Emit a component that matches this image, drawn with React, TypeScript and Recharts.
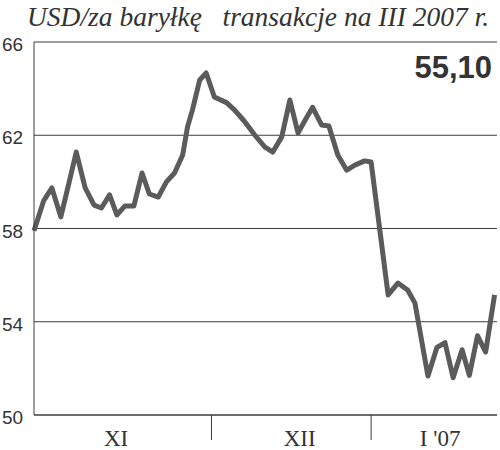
import React from "react";
import { LineChart, Line, XAxis, YAxis, CartesianGrid } from "recharts";

// trading days since 1 Nov (approx.) and USD/bbl closing price
const days = [
  0, 1.2, 2.2, 3.3, 4.3, 5.2, 6.3, 7.4, 8.3, 9.3, 10.2, 11.2, 12.3, 13.3, 14.2,
  15.3, 16.3, 17.3, 18.3, 18.9, 19.5, 20.4, 21.2, 22.2, 23.7, 24.7, 25.9, 27.2,
  28.4, 29.4, 30.5, 31.5, 32.5, 33.6, 34.3, 35.4, 36.3, 37.4, 38.5, 39.5, 40.7,
  41.5, 43.6, 44.8, 46.0, 46.9, 48.5, 49.6, 50.6, 51.6, 52.7, 53.6, 54.6, 55.6,
  56.7,
];
const prices = [
  57.9, 59.2, 59.74, 58.5, 59.95, 61.28, 59.74, 59.0, 58.88, 59.44, 58.58, 58.97,
  58.97, 60.38, 59.48, 59.35, 60.0, 60.38, 61.15, 62.36, 63.08, 64.37, 64.67,
  63.64, 63.4, 63.08, 62.6, 62.0, 61.5, 61.28, 61.93, 63.51, 62.1, 62.78, 63.2,
  62.44, 62.4, 61.15, 60.5, 60.72, 60.9, 60.85, 55.15, 55.66, 55.36, 54.8, 51.67,
  52.9, 53.1, 51.6, 52.8, 51.7, 53.4, 52.7, 55.15,
];

const yTicks = [50, 54, 58, 62, 66];
const monthCenters = [10.1, 32.7, 50];
const monthLabels = ["XI", "XII", "I '07"];
const monthBreaks = [21.85, 41.5];

const LINE_COLOR = "#5b5b5b";
const GRID_COLOR = "#3c3c3c";
const TEXT_COLOR = "#333";

const data = days.map((d, i) => ({ day: d, price: prices[i] }));

function MonthTick({ x, y, payload }: any) {
  const i = monthCenters.indexOf(payload.value);
  if (i < 0) {
    return <line x1={x} x2={x} y1={y} y2={y + 25} stroke={GRID_COLOR} strokeWidth={1} />;
  }
  return (
    <text
      x={x}
      y={y + 31}
      textAnchor="middle"
      fill={TEXT_COLOR}
      style={{ fontFamily: "Liberation Serif", fontSize: 23 }}
    >
      {monthLabels[i]}
    </text>
  );
}

function PriceTick({ y, payload }: any) {
  return (
    <text
      x={2}
      y={y + 9}
      textAnchor="start"
      fill={TEXT_COLOR}
      style={{ fontFamily: "Liberation Sans", fontSize: 19 }}
    >
      {payload.value}
    </text>
  );
}

export default function App() {
  return (
    <div style={{ position: "fixed", left: 0, top: 0, width: 500, height: 450, background: "#fff" }}>
      <div
        style={{
          position: "absolute",
          left: 27,
          top: 1,
          fontFamily: "Liberation Serif",
          fontStyle: "italic",
          fontSize: 27.5,
          color: TEXT_COLOR,
          whiteSpace: "pre",
        }}
      >
        {"USD/za baryłkę   transakcje na III 2007 r."}
      </div>
      <div
        style={{
          position: "absolute",
          right: 8,
          top: 50,
          fontFamily: "Liberation Sans",
          fontWeight: "bold",
          fontSize: 31,
          color: TEXT_COLOR,
        }}
      >
        55,10
      </div>
      <LineChart width={500} height={450} data={data} margin={{ top: 42, right: 3, left: 0, bottom: 0 }}>
        <CartesianGrid horizontal vertical={false} stroke={GRID_COLOR} />
        <XAxis
          dataKey="day"
          type="number"
          domain={[0, 57]}
          ticks={[...monthCenters, ...monthBreaks].sort((a, b) => a - b)}
          tick={<MonthTick />}
          tickLine={false}
          tickSize={0}
          tickMargin={0}
          height={35}
          axisLine={{ stroke: GRID_COLOR }}
          interval={0}
        />
        <YAxis
          domain={[50, 66]}
          ticks={yTicks}
          tick={<PriceTick />}
          tickLine={false}
          width={34}
          axisLine={{ stroke: GRID_COLOR }}
          interval={0}
        />
        <YAxis yAxisId="frame" orientation="right" width={0} tick={false} tickLine={false} axisLine={{ stroke: GRID_COLOR }} />
        <Line
          type="linear"
          dataKey="price"
          stroke={LINE_COLOR}
          strokeWidth={5}
          strokeLinejoin="round"
          dot={false}
          isAnimationActive={false}
        />
      </LineChart>
    </div>
  );
}
